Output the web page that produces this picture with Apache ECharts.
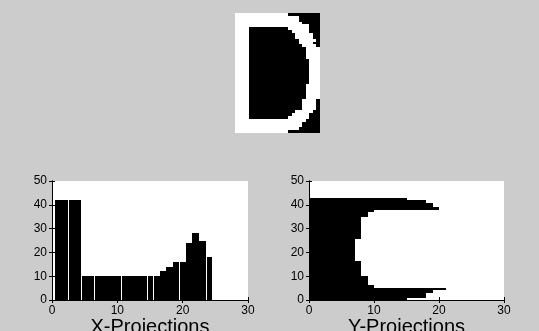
<!DOCTYPE html>
<html>
<head>
<meta charset="utf-8">
<script src="https://cdn.jsdelivr.net/npm/echarts@6/dist/echarts.min.js"></script>
<style>
  html, body { margin: 0; padding: 0; background: #cccccc; }
  #chart { width: 539px; height: 331px; }
</style>
</head>
<body>
<div id="chart"></div>
<script>
// binary image of the letter, 24 columns x 42 rows (top row first)
// each row lists its white runs as [fromColumn, toColumn]
const dRows = [
  [[1, 15]], [[1, 18]], [[1, 18]], [[1, 19]], [[1, 21]],
  [[1, 4], [16, 21]], [[1, 4], [17, 21]], [[1, 4], [18, 22]], [[1, 4], [18, 22]], [[1, 4], [19, 23]],
  [[1, 4], [19, 22]], [[1, 4], [20, 23]],
  [[1, 4], [21, 24]], [[1, 4], [21, 24]], [[1, 4], [21, 24]], [[1, 4], [21, 24]],
  [[1, 4], [22, 24]], [[1, 4], [22, 24]], [[1, 4], [22, 24]], [[1, 4], [22, 24]], [[1, 4], [22, 24]],
  [[1, 4], [22, 24]], [[1, 4], [22, 24]], [[1, 4], [22, 24]], [[1, 4], [22, 24]],
  [[1, 4], [21, 24]], [[1, 4], [21, 24]], [[1, 4], [21, 24]], [[1, 4], [21, 24]], [[1, 4], [21, 24]],
  [[1, 4], [20, 23]], [[1, 4], [20, 23]], [[1, 4], [20, 23]], [[1, 4], [20, 23]],
  [[1, 4], [18, 22]], [[1, 4], [17, 21]], [[1, 4], [16, 21]],
  [[1, 20]], [[1, 19]], [[1, 19]], [[1, 18]], [[1, 15]]
];
const imgCols = 24;
const imgRows = 42;

// column sums (x = 1..24)
const xProjection = [42, 42, 42, 42, 10, 10, 10, 10, 10, 10, 10, 10, 10, 10, 10, 10, 12, 14, 16, 16, 24, 28, 25, 18];
// bars that show a thin white seam on their left side
const xBarSeams = [3, 5, 7, 11, 15, 16, 20, 24];

// row sums (y = 1..42)
const yProjection = [15, 18, 18, 19, 21, 10, 9, 9, 9, 9, 8, 8, 8, 8, 8, 8, 7, 7, 7, 7, 7, 7, 7, 7, 7,
  8, 8, 8, 8, 8, 8, 8, 8, 8, 9, 9, 10, 20, 19, 19, 18, 15];

const xRange = [0, 30];
const yRange = [0, 50];
const tickStep = 10;
const xTitles = ['X-Projections', 'Y-Projections'];

const chart = echarts.init(document.getElementById('chart'));

const font = 'Liberation Sans, Arial, sans-serif';
const rowStep = 43 / 42;

// 이미지 흰색 구간 데이터
const runData = [];
dRows.forEach((runs, r) => {
  runs.forEach(run => runData.push([r + 1, run[0], run[1]]));
});

function box(p0, p1) {
  const x0 = Math.round(Math.min(p0[0], p1[0]));
  const x1 = Math.round(Math.max(p0[0], p1[0]));
  const y0 = Math.round(Math.min(p0[1], p1[1]));
  const y1 = Math.round(Math.max(p0[1], p1[1]));
  return { x: x0, y: y0, width: x1 - x0, height: y1 - y0 };
}

function mainX(grid, title) {
  return {
    type: 'value', gridIndex: grid, min: xRange[0], max: xRange[1], interval: tickStep,
    axisLine: { show: true, lineStyle: { color: '#000', width: 1 } },
    axisTick: { show: true, inside: true, length: 3, lineStyle: { color: '#000' } },
    axisLabel: { show: true, color: '#000', fontSize: 12, fontFamily: font, margin: 5 },
    splitLine: { show: false },
    name: title, nameLocation: 'middle', nameGap: 17,
    nameTextStyle: { color: '#000', fontSize: 20, fontFamily: font }
  };
}
function mirrorX(grid) {
  return {
    type: 'value', gridIndex: grid, position: 'top', min: xRange[0], max: xRange[1], interval: tickStep,
    axisLine: { show: true, lineStyle: { color: '#000', width: 1 } },
    axisTick: { show: true, inside: true, length: 3, lineStyle: { color: '#000' } },
    axisLabel: { show: false }, splitLine: { show: false }
  };
}
function mainY(grid) {
  return {
    type: 'value', gridIndex: grid, min: yRange[0], max: yRange[1], interval: tickStep,
    axisLine: { show: true, lineStyle: { color: '#000', width: 1 } },
    axisTick: { show: true, inside: true, length: 3, lineStyle: { color: '#000' } },
    axisLabel: { show: true, color: '#000', fontSize: 12, fontFamily: font, margin: 5 },
    splitLine: { show: false }
  };
}
function mirrorY(grid) {
  return {
    type: 'value', gridIndex: grid, position: 'right', min: yRange[0], max: yRange[1], interval: tickStep,
    axisLine: { show: true, lineStyle: { color: '#000', width: 1 } },
    axisTick: { show: true, inside: true, length: 3, lineStyle: { color: '#000' } },
    axisLabel: { show: false }, splitLine: { show: false }
  };
}

const gridBase = { show: true, borderWidth: 0, outerBoundsMode: 'none', containLabel: false };

const option = {
  animation: false,
  backgroundColor: '#cccccc',
  grid: [
    Object.assign({}, gridBase, { left: 235, top: 13, width: 85, height: 120, backgroundColor: '#000' }),
    Object.assign({}, gridBase, { left: 52, top: 181, width: 196, height: 119, backgroundColor: '#fff' }),
    Object.assign({}, gridBase, { left: 309, top: 181, width: 195, height: 119, backgroundColor: '#fff' })
  ],
  xAxis: [
    { type: 'value', gridIndex: 0, min: 0, max: imgCols, show: false },
    mainX(1, xTitles[0]), mirrorX(1),
    mainX(2, xTitles[1]), mirrorX(2)
  ],
  yAxis: [
    { type: 'value', gridIndex: 0, min: 0, max: imgRows, inverse: true, show: false },
    mainY(1), mirrorY(1),
    mainY(2), mirrorY(2)
  ],
  series: [
    {
      // 글자 이미지
      type: 'custom', xAxisIndex: 0, yAxisIndex: 0, silent: true,
      data: runData,
      renderItem: function (params, api) {
        const r = api.value(0), a = api.value(1), b = api.value(2);
        return {
          type: 'rect',
          shape: box(api.coord([a - 1, r - 1]), api.coord([b, r])),
          style: { fill: '#fff' }
        };
      }
    },
    {
      // X 투영 막대
      type: 'custom', xAxisIndex: 1, yAxisIndex: 1, silent: true, clip: true,
      data: xProjection.map((v, i) => [i + 1, v]),
      renderItem: function (params, api) {
        const x = api.value(0), v = api.value(1);
        const s = box(api.coord([x - 0.5, v]), api.coord([x + 0.5, 0]));
        if (xBarSeams.indexOf(x) >= 0) {
          s.x += 1;
          s.width -= 1;
        }
        return { type: 'rect', shape: s, style: { fill: '#000' } };
      }
    },
    {
      // Y 투영 막대 (가로)
      type: 'custom', xAxisIndex: 3, yAxisIndex: 3, silent: true, clip: true,
      data: yProjection.map((v, i) => [i + 1, v]),
      renderItem: function (params, api) {
        const k = api.value(0), v = api.value(1);
        return {
          type: 'rect',
          shape: box(api.coord([0, k * rowStep]), api.coord([v, (k - 1) * rowStep])),
          style: { fill: '#000' }
        };
      }
    }
  ]
};

chart.setOption(option);
</script>
</body>
</html>
